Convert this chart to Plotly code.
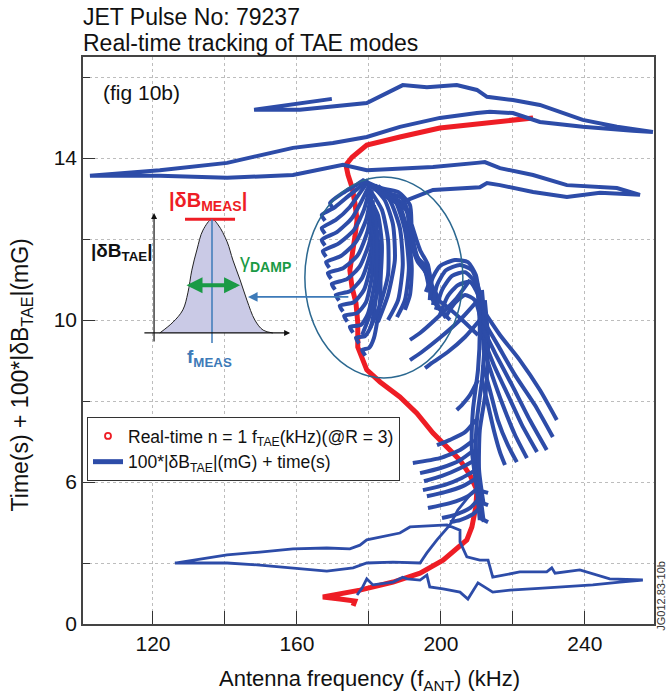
import plotly.graph_objects as go

# ---------------- data ----------------
# Red: real-time n=1 TAE frequency (kHz) vs time (s)
rt_freq = [225.6, 211.7, 199.7, 188.6, 179.4, 175.3, 173.6, 174.2, 175.3, 176.1, 176.7, 176.1,
           175.3, 174.7, 175.3, 176.4, 176.9, 176.9, 179.4, 183.1, 188.6, 193.3, 197.8, 201.7,
           205.3, 208.1, 210.0, 209.7, 208.6, 207.2, 200.6, 194.2, 186.7, 177.5, 167.2, 171.9,
           176.1, 175.6]
rt_time = [14.99, 14.86, 14.74, 14.52, 14.32, 14.02, 13.83, 13.58, 13.28, 12.89, 12.47, 12.05,
           11.65, 11.23, 10.81, 10.42, 9.93, 9.33, 8.77, 8.47, 8.10, 7.70, 7.21, 6.86,
           6.54, 6.17, 5.80, 5.38, 4.89, 4.57, 4.07, 3.75, 3.53, 3.33, 3.16, 3.11,
           3.06, 2.94]

# Blue: antenna sweeps, 100*|dB_TAE| + time
sweep_top_freq = [169.7, 158.9, 148.1, 160.8, 179.4, 189.4, 196.1, 204.4, 210.0, 212.8, 220.0, 227.5,
                  239.4, 248.9, 258.9, 253.3, 239.4, 227.5, 220.0, 213.6, 210.0, 199.7, 188.6, 179.4,
                  170.0, 158.9, 140.6, 121.9, 102.5, 121.9, 140.6, 158.9, 172.8, 179.4, 197.8, 210.0,
                  212.2, 216.4, 225.6, 235.0, 248.9, 255.3, 244.2, 235.0, 225.6, 216.4, 212.8, 210.8,
                  197.8, 190.6]
sweep_top_val = [15.46, 15.33, 15.19, 15.19, 15.36, 15.80, 15.75, 15.80, 15.68, 15.51, 15.43, 15.31,
                 14.94, 14.77, 14.64, 14.67, 14.77, 14.89, 15.11, 15.14, 15.11, 14.99, 14.77, 14.52,
                 14.37, 14.25, 13.88, 13.70, 13.56, 13.56, 13.51, 13.58, 13.83, 13.70, 13.78, 13.88,
                 13.90, 13.75, 13.58, 13.33, 13.26, 13.09, 13.14, 13.04, 13.16, 13.33, 13.38, 13.28,
                 13.21, 12.96]

sweep_bot_freq = [176.7, 178.1, 179.4, 181.1, 186.7, 189.4, 190.6, 194.2, 196.1, 196.9, 200.6, 205.3,
                  207.5, 210.3, 214.4, 219.2, 228.3, 242.2, 249.7, 256.1, 246.9, 238.6, 231.7, 230.8,
                  229.4, 221.9, 214.4, 213.1, 210.8, 207.2, 205.3, 205.3, 201.7, 191.4, 188.6, 183.1,
                  179.4, 177.5, 174.7, 168.3, 158.9, 149.7, 140.6, 126.1, 140.6, 149.7, 158.9, 168.3,
                  175.6, 179.4, 186.7, 194.2, 196.1, 198.9, 202.5, 204.7, 208.1]
sweep_bot_val = [3.21, 3.38, 3.61, 3.46, 3.53, 3.65, 3.61, 3.58, 3.70, 3.41, 3.36, 3.28,
                 3.11, 3.51, 3.28, 3.33, 3.38, 3.46, 3.53, 3.58, 3.61, 3.83, 3.75, 3.88,
                 3.78, 3.78, 3.65, 4.07, 4.07, 4.15, 4.52, 4.81, 4.94, 4.89, 4.74, 4.64,
                 4.57, 4.44, 4.35, 4.37, 4.35, 4.27, 4.20, 4.00, 4.00, 3.95, 3.88, 3.80,
                 3.88, 4.00, 4.02, 4.00, 4.25, 4.57, 4.94, 5.31, 5.68]

fan_hooks = [
    ([170.0, 169.2, 172.8, 176.4, 178.6], [12.76, 12.89, 13.14, 13.33, 13.46]),
    ([167.8, 166.9, 170.6, 174.7, 178.1, 179.7], [12.45, 12.59, 12.79, 13.09, 13.33, 13.46]),
    ([167.8, 166.9, 170.8, 174.7, 177.5, 179.7], [12.13, 12.27, 12.47, 12.79, 13.14, 13.41]),
    ([167.8, 166.9, 171.1, 175.3, 178.1, 180.3], [11.84, 11.98, 12.17, 12.52, 12.96, 13.36]),
    ([168.1, 167.2, 171.4, 175.8, 178.6, 180.3], [11.56, 11.70, 11.88, 12.22, 12.72, 13.26]),
    ([169.0, 168.1, 172.2, 176.4, 179.2, 180.8], [11.29, 11.43, 11.58, 11.93, 12.47, 13.21]),
    ([169.5, 168.6, 172.8, 176.9, 179.7, 180.8], [11.02, 11.16, 11.28, 11.60, 12.22, 13.09]),
    ([170.6, 169.7, 173.9, 177.5, 180.3, 181.1], [10.75, 10.89, 11.01, 11.33, 11.98, 12.96]),
    ([171.7, 170.8, 174.7, 178.1, 180.6, 181.4], [10.48, 10.62, 10.71, 11.04, 11.73, 12.84]),
    ([172.8, 171.9, 175.8, 178.6, 180.8, 181.7], [10.21, 10.35, 10.44, 10.74, 11.48, 12.72]),
    ([174.0, 173.1, 176.7, 179.2, 181.1, 181.9], [9.96, 10.10, 10.17, 10.44, 11.23, 12.59]),
    ([175.6, 174.7, 177.8, 179.7, 181.7, 182.2], [9.69, 9.83, 9.88, 10.15, 10.99, 12.47]),
    ([177.3, 176.4, 178.9, 180.6, 182.2, 182.5], [9.42, 9.56, 9.60, 9.85, 10.74, 12.22]),
    ([179.0, 178.1, 180.0, 181.4, 183.1, 183.1], [9.12, 9.26, 9.31, 9.56, 10.49, 11.98]),
]
fan_arcs = [
    ([180.8, 184.4, 186.7, 187.2, 185.3, 182.5], [13.33, 12.96, 12.35, 11.48, 10.62, 9.95]),
    ([181.7, 185.8, 188.6, 189.4, 188.1, 185.3], [13.33, 12.96, 12.27, 11.36, 10.49, 10.00]),
    ([182.5, 187.2, 190.0, 191.1, 190.0, 187.8], [13.31, 12.96, 12.22, 11.28, 10.49, 10.07]),
    ([183.1, 188.1, 190.8, 191.9, 191.4, 190.0], [13.26, 12.91, 12.17, 11.28, 10.62, 10.25]),
    ([180.3, 183.6, 185.3, 185.3, 183.1, 180.3], [13.21, 12.72, 11.98, 11.11, 10.37, 9.80]),
    ([179.7, 182.5, 183.6, 183.1, 180.8, 178.1], [13.09, 12.59, 11.85, 10.99, 10.25, 9.63]),
]
fan_trunk = [
    ([178.1, 183.1, 188.1, 191.4, 191.9, 193.1, 195.6, 196.9, 198.9, 202.5],
     [13.46, 13.26, 13.16, 12.84, 12.22, 11.60, 11.23, 10.74, 10.37, 10.00]),
    ([178.9, 184.4, 189.2, 190.8, 191.4, 193.6, 196.4, 197.5, 200.3],
     [13.41, 13.16, 13.01, 12.67, 11.98, 11.43, 11.11, 10.54, 10.20]),
    ([179.7, 185.3, 189.7, 191.4, 192.2, 194.7, 196.9, 198.6, 201.4],
     [13.36, 13.09, 12.86, 12.47, 11.78, 11.36, 10.94, 10.44, 10.05]),
    ([180.3, 186.4, 190.3, 191.9, 193.6, 196.4, 197.5, 199.7],
     [13.31, 12.96, 12.72, 12.10, 11.53, 11.28, 10.86, 10.49]),
    ([191.9, 194.2, 196.4, 196.9, 195.8], [12.35, 11.73, 11.36, 10.99, 10.69]),
    ([196.9, 201.1, 205.3, 210.3], [10.62, 10.37, 10.05, 9.63]),
]
fan_lobe = [
    ([196.9, 197.5, 199.7, 203.9, 207.5, 209.7, 210.8, 211.7, 212.2],
     [10.49, 10.99, 11.33, 11.48, 11.43, 11.11, 10.49, 9.75, 9.01]),
    ([197.8, 198.9, 201.4, 205.3, 208.6, 210.6, 211.4, 211.9],
     [10.37, 10.86, 11.23, 11.36, 11.23, 10.74, 10.00, 9.26]),
    ([198.6, 200.3, 203.1, 206.7, 209.4, 210.8, 211.4], [10.25, 10.74, 11.09, 11.18, 10.94, 10.37, 9.51]),
    ([199.7, 201.9, 204.7, 208.1, 210.3, 211.1], [10.12, 10.59, 10.86, 10.94, 10.62, 10.00]),
    ([201.1, 203.9, 206.7, 209.4, 210.8], [10.05, 10.42, 10.62, 10.49, 10.12]),
    ([208.1, 203.9, 198.3, 194.2, 191.4], [10.99, 10.49, 10.00, 9.68, 9.51]),
    ([210.3, 205.3, 199.7, 194.7, 191.4], [10.49, 10.00, 9.56, 9.21, 9.01]),
    ([210.8, 206.7, 201.9, 197.5, 195.6], [10.00, 9.58, 9.21, 8.94, 8.81]),
]
fan_stem = [
    ([210.3, 210.8, 210.3, 208.9, 208.6, 210.0, 210.8], [10.74, 9.75, 8.77, 7.78, 6.79, 5.80, 5.06]),
    ([211.4, 212.2, 211.4, 210.0, 209.7, 211.1, 211.9], [10.74, 9.75, 8.52, 7.53, 6.54, 5.56, 5.01]),
    ([212.2, 213.1, 212.5, 210.8, 210.6, 211.9], [10.49, 9.51, 8.27, 7.28, 6.30, 5.43]),
]
fan_right = [
    ([211.7, 216.4, 221.9, 227.5, 232.2], [10.25, 9.63, 9.01, 8.27, 7.53]),
    ([211.7, 215.8, 220.6, 226.1, 231.1], [10.00, 9.38, 8.64, 7.90, 7.11]),
    ([211.9, 215.3, 219.7, 224.7, 229.4], [9.75, 9.14, 8.40, 7.53, 6.79]),
    ([211.9, 214.7, 218.6, 222.5, 226.7], [9.51, 8.89, 8.15, 7.41, 6.74]),
    ([211.9, 214.2, 217.2, 220.6, 223.9], [9.26, 8.64, 7.90, 7.16, 6.59]),
    ([211.7, 213.6, 215.8, 218.6, 221.1], [8.89, 8.27, 7.53, 6.91, 6.49]),
    ([211.4, 213.1, 214.7, 216.4, 217.8], [8.52, 7.90, 7.28, 6.74, 6.42]),
]
fan_lower = [
    ([210.3, 208.1, 205.8, 204.4], [8.52, 8.15, 7.90, 7.78]),
    ([209.7, 206.7, 202.5, 198.9], [7.53, 7.23, 7.04, 6.91]),
    ([209.2, 205.3, 199.7, 192.2], [7.04, 6.79, 6.59, 6.47]),
    ([209.2, 205.3, 199.7, 194.2], [6.79, 6.54, 6.34, 6.22]),
    ([209.4, 205.3, 200.3, 195.3], [6.54, 6.34, 6.15, 6.02]),
    ([209.7, 205.8, 201.1, 195.0], [6.30, 6.10, 5.93, 5.80]),
    ([210.0, 206.1, 201.1, 196.1], [6.10, 5.90, 5.75, 5.65]),
    ([210.3, 207.5, 202.5, 196.4], [5.85, 5.65, 5.48, 5.36]),
    ([210.6, 208.1, 203.9, 200.3], [5.60, 5.36, 5.19, 5.11]),
    ([210.8, 208.6, 205.3, 202.5], [5.36, 5.19, 5.06, 5.01]),
    ([210.3, 213.1], [5.80, 5.73]),
    ([210.6, 213.1], [5.51, 5.43]),
    ([210.8, 213.1], [5.11, 5.01]),
]

# Inset schematic (resonance profile)
inset_freq = [121.9, 125.6, 128.3, 129.7, 130.8, 132.2, 133.9, 136.4, 138.1, 140.6, 142.2, 144.2,
              146.1, 148.3, 150.6, 153.3]
inset_amp = [9.68, 9.95, 10.25, 10.67, 11.23, 11.73, 12.22, 12.49, 12.35, 11.93, 11.48, 10.99,
             10.49, 10.00, 9.75, 9.68]

x_tickvals = [120, 140, 160, 180, 200, 220, 240]
x_ticktext = ["120", "", "160", "", "200", "", "240"]
y_tickvals = [2.5, 6, 10, 14]
y_ticktext = ["0", "6", "10", "14"]
y_minor = [4, 8, 12, 16]

BLUE = "#2d4ca8"
RED = "#ee1d25"
FONT = "Liberation Sans, Arial, sans-serif"


def join(strands):
    xs, ys = [], []
    for f, v in strands:
        xs += list(f) + [None]
        ys += list(v) + [None]
    return xs, ys


fig = go.Figure()

# inset bell
fig.add_trace(go.Scatter(x=inset_freq, y=inset_amp, mode="lines", fill="toself",
                         fillcolor="#cacae6", line=dict(color="#222", width=1, shape="spline"),
                         showlegend=False, hoverinfo="skip"))

# red real-time track
fig.add_trace(go.Scatter(x=rt_freq, y=rt_time, mode="lines", line=dict(color=RED, width=5),
                         showlegend=False, hoverinfo="skip"))
fig.add_trace(go.Scatter(x=[None], y=[None], mode="markers",
                         marker=dict(symbol="circle-open", size=6, color=RED, line=dict(width=1.8)),
                         name="Real-time n = 1 f<sub>TAE</sub>(kHz)(@R = 3)"))
fig.add_trace(go.Scatter(x=[None], y=[None], mode="lines", line=dict(color=BLUE, width=5),
                         name="100*|δB<sub>TAE</sub>|(mG) + time(s)"))

# blue sweeps
fig.add_trace(go.Scatter(x=sweep_top_freq, y=sweep_top_val, mode="lines",
                         line=dict(color=BLUE, width=4), showlegend=False, hoverinfo="skip"))
fig.add_trace(go.Scatter(x=sweep_bot_freq, y=sweep_bot_val, mode="lines",
                         line=dict(color=BLUE, width=2.8), showlegend=False, hoverinfo="skip"))
for grp in [fan_hooks, fan_arcs, fan_trunk, fan_lobe, fan_stem, fan_right, fan_lower]:
    gx, gy = join(grp)
    fig.add_trace(go.Scatter(x=gx, y=gy, mode="lines",
                             line=dict(color=BLUE, width=4, shape="spline", smoothing=0.6),
                             showlegend=False, hoverinfo="skip", connectgaps=False))

shapes = [
    dict(type="circle", xref="x", yref="y", x0=162.2, x1=206.1, y0=8.57, y1=13.53,
         line=dict(color="#2b6890", width=1.5)),
    dict(type="line", xref="x", yref="y", x0=128.9, x1=142.8, y0=12.49, y1=12.49,
         line=dict(color=RED, width=3)),
    dict(type="line", xref="x", yref="y", x0=136.4, x1=136.4, y0=12.49, y1=9.43,
         line=dict(color="#3d7ab8", width=1.5)),
]

ann = [
    dict(text="JET Pulse No: 79237", xref="paper", yref="paper", x=-0.004, y=1.071,
         xanchor="left", yanchor="middle", showarrow=False, font=dict(size=23, color="#111")),
    dict(text="Real-time tracking of TAE modes", xref="paper", yref="paper", x=-0.004, y=1.025,
         xanchor="left", yanchor="middle", showarrow=False, font=dict(size=23, color="#111")),
    dict(text="(fig 10b)", xref="paper", yref="paper", x=0.1016, y=0.938,
         xanchor="center", yanchor="middle", showarrow=False, font=dict(size=21, color="#111")),
    dict(text="Time(s) + 100*|δB<sub>TAE</sub>|(mG)", xref="paper", yref="paper", x=-0.107, y=0.44,
         xanchor="center", yanchor="middle", textangle=-90, showarrow=False,
         font=dict(size=23, color="#111")),
    dict(text="Antenna frequency (f<sub>ANT</sub>) (kHz)", xref="paper", yref="paper", x=0.5026,
         y=-0.099, xanchor="center", yanchor="middle", showarrow=False,
         font=dict(size=22, color="#111")),
    dict(text="JG012.83-10b", xref="paper", yref="paper", x=1.0125, y=0.05, xanchor="center",
         yanchor="middle", textangle=-90, showarrow=False, font=dict(size=11, color="#333")),
    # inset labels
    dict(text="<b>|δB<sub>MEAS</sub>|</b>", x=135.3, y=12.93, xref="x", yref="y", showarrow=False,
         font=dict(size=20, color=RED)),
    dict(text="<b>|δB<sub>TAE</sub>|</b>", x=111.4, y=11.68, xref="x", yref="y", showarrow=False,
         font=dict(size=19, color="#111")),
    dict(text="γ<sub><b>DAMP</b></sub>", x=151.3, y=11.43, xref="x", yref="y", showarrow=False,
         font=dict(size=20, color="#1a9a45")),
    dict(text="<b>f<sub>MEAS</sub></b>", x=135.8, y=9.07, xref="x", yref="y", showarrow=False,
         font=dict(size=19, color="#3d7ab8")),
    # inset arrows
    dict(x=158.1, y=9.68, ax=117.2, ay=9.68, xref="x", yref="y", axref="x", ayref="y", text="",
         showarrow=True, arrowhead=2, arrowsize=1, arrowwidth=1.2, arrowcolor="#111"),
    dict(x=120.3, y=12.64, ax=120.3, ay=9.43, xref="x", yref="y", axref="x", ayref="y", text="",
         showarrow=True, arrowhead=2, arrowsize=1, arrowwidth=1.2, arrowcolor="#111"),
    dict(x=144.2, y=10.86, ax=128.9, ay=10.86, xref="x", yref="y", axref="x", ayref="y", text="",
         showarrow=True, arrowhead=2, arrowside="end+start", arrowsize=0.8, arrowwidth=4,
         arrowcolor="#1a9a45"),
    dict(x=146.4, y=10.57, ax=174.7, ay=10.57, xref="x", yref="y", axref="x", ayref="y", text="",
         showarrow=True, arrowhead=2, arrowsize=1.2, arrowwidth=1.6, arrowcolor="#3d7ab8"),
]

fig.update_layout(
    width=667, height=697,
    margin=dict(l=83, r=13, t=57, b=73),
    paper_bgcolor="white", plot_bgcolor="white",
    font=dict(family=FONT, color="#111"),
    shapes=shapes, annotations=ann,
    legend=dict(x=0.007, y=0.365, xanchor="left", yanchor="top", bgcolor="white",
                bordercolor="#333", borderwidth=1, font=dict(size=17.5, color="#111"),
                tracegroupgap=0),
)
fig.update_xaxes(range=[100.56, 259.2], tickvals=x_tickvals, ticktext=x_ticktext,
                 ticks="inside", ticklen=13, tickcolor="#333", tickfont=dict(size=21),
                 showgrid=True, gridcolor="#bdbdbd", griddash="dot", gridwidth=1,
                 showline=True, linecolor="#444", linewidth=1.5, mirror=True, zeroline=False)
fig.update_yaxes(range=[2.494, 16.494], tickvals=y_tickvals, ticktext=y_ticktext,
                 ticks="inside", ticklen=12, tickcolor="#333", tickfont=dict(size=21),
                 showgrid=True, gridcolor="#bdbdbd", griddash="dot", gridwidth=1,
                 minor=dict(tickvals=y_minor, ticks="inside", ticklen=7, tickcolor="#333",
                            showgrid=True, gridcolor="#bdbdbd", griddash="dot"),
                 showline=True, linecolor="#444", linewidth=1.5, mirror=True, zeroline=False)

fig.write_html("out.html")
